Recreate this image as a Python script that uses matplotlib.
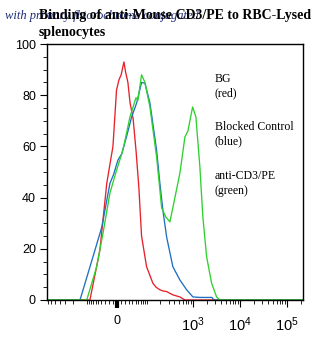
import numpy as np
import matplotlib
matplotlib.use("Agg")
import matplotlib.pyplot as plt
from matplotlib.ticker import FixedLocator, NullFormatter

# Fluorescence intensity (PE channel) and % of max for each sample
bg_x = [-740, -84, -45, -25, -9.5, -1, 4.7, 10, 16.8, 21, 27, 33, 42, 52,
        62, 73, 97, 136, 160, 194, 230, 272, 371, 525, 671, 2.2e5]
bg_y = [0, 0, 19.5, 45.6, 60, 82, 86, 88, 93, 89, 85, 77, 71, 58,
        44, 25, 13, 6.5, 5, 4, 3.5, 3.3, 2, 1.2, 0, 0]

blocked_x = [-740, -143, -70, -39, -16.8, -8, 2.4, 11.1, 23.7, 37.6, 54, 73, 88.5,
             116, 164, 194, 226, 272, 371, 525, 729, 993, 1400, 2520, 2780, 2.2e5]
blocked_y = [0, 0, 17, 28.5, 45.6, 49, 54.7, 57, 64, 71.5, 77, 85, 84.7,
             77, 58.6, 45.6, 35, 24.6, 13, 7.8, 4, 1.2, 1, 1, 0, 0]

cd3_x = [-740, -100, -56, -35.6, -16.8, -0.7, 14.3, 32.7, 51.4, 58.6, 73, 88.5,
         116, 164, 212, 262, 320, 410, 525, 671, 777, 979, 1151, 1399, 1621,
         1944, 2484, 3173, 3730, 2.2e5]
cd3_y = [0, 0, 13, 26, 41.8, 50.8, 58.6, 71.5, 79, 78, 88, 85,
         75.4, 56, 36, 32.4, 30.5, 40, 49.6, 63.7, 66, 75.4, 71.5, 52, 32.4,
         17, 6.6, 1.2, 0, 0]

x_major = [0, 1e3, 1e4, 1e5]
x_labels = ["0", r"$10^3$", r"$10^4$", r"$10^5$"]
y_major = [0, 20, 40, 60, 80, 100]

C = 48.0  # width of the linear region of the arcsinh display scale
LN10 = np.log(10)


def fwd(v):
    return np.arcsinh(np.asarray(v, float) / C) / LN10


def inv(v):
    return C * np.sinh(np.asarray(v, float) * LN10)


plt.rcParams["mathtext.fontset"] = "custom"
plt.rcParams["mathtext.rm"] = "Liberation Sans"
plt.rcParams["mathtext.it"] = "Liberation Sans"

fig = plt.figure(figsize=(3.32, 3.37), dpi=100)
ax = fig.add_axes([0.1416, 0.1098, 0.7711, 0.7596])
ax.set_xscale("function", functions=(fwd, inv))

ax.plot(bg_x, bg_y, color="#e8202a", lw=0.95)
ax.plot(blocked_x, blocked_y, color="#1f6fc0", lw=0.95)
ax.plot(cd3_x, cd3_y, color="#2ed12e", lw=0.95)

ax.set_xlim(-740, 2.2e5)
ax.set_ylim(0, 100)

# y axis: majors every 20, minors every 5
ax.yaxis.set_major_locator(FixedLocator(y_major))
ax.yaxis.set_minor_locator(FixedLocator(np.arange(0, 101, 5)))
ax.tick_params(axis="y", which="major", length=5, width=0.8, direction="out",
               labelsize=9, pad=3)
ax.tick_params(axis="y", which="minor", length=3, width=0.6, direction="out")

# x axis: biexponential style ticks
minor_x = (list(range(-700, -99, 100)) + list(range(-90, 0, 10)) +
           list(range(10, 100, 10)) + list(range(100, 1000, 100)) +
           list(range(2000, 10000, 1000)) + list(range(20000, 100000, 10000)) +
           [200000])
ax.xaxis.set_major_locator(FixedLocator(x_major))
ax.set_xticklabels(x_labels)
ax.xaxis.set_minor_locator(FixedLocator(minor_x))
ax.xaxis.set_minor_formatter(NullFormatter())
ax.tick_params(axis="x", which="major", length=5, width=0.8, direction="out",
               labelsize=9, pad=6)
ax.tick_params(axis="x", which="minor", length=3, width=0.6, direction="out")
ax.get_xticklines()[0].set_markeredgewidth(3)
ax.get_xticklines()[0].set_markersize(6)

for lbl in ax.get_xticklabels() + ax.get_yticklabels():
    lbl.set_fontfamily("Liberation Sans")
for lbl in ax.get_xticklabels()[1:]:
    lbl.set_fontsize(10.5)

for s in ax.spines.values():
    s.set_linewidth(1.0)

serif = "Liberation Serif"
ax.text(0.656, 0.887, "BG\n(red)", transform=ax.transAxes, va="top", ha="left",
        fontsize=8.5, family=serif, linespacing=1.3)
ax.text(0.656, 0.699, "Blocked Control\n(blue)", transform=ax.transAxes,
        va="top", ha="left", fontsize=8.5, family=serif, linespacing=1.3)
ax.text(0.656, 0.508, "anti-CD3/PE\n(green)", transform=ax.transAxes,
        va="top", ha="left", fontsize=8.5, family=serif, linespacing=1.3)

fig.text(5 / 332, 1 - 19 / 337, "with primary fluorochrome conjugated",
         fontsize=9, family=serif, style="italic", color="#1c2a78",
         va="baseline", ha="left")
fig.text(39 / 332, 1 - 19 / 337, "Binding of anti-Mouse CD3/PE to RBC-Lysed",
         fontsize=10, family=serif, weight="bold", va="baseline", ha="left")
fig.text(39 / 332, 1 - 36 / 337, "splenocytes",
         fontsize=10, family=serif, weight="bold", va="baseline", ha="left")

fig.savefig("out.png", dpi=100)
